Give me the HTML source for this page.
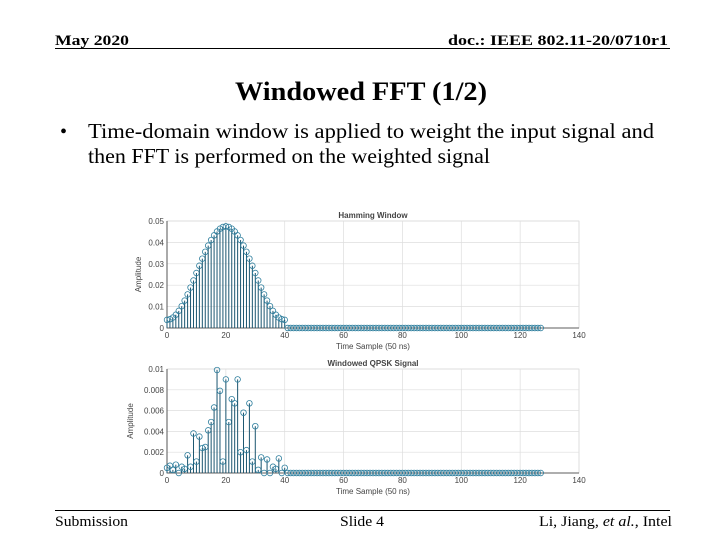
<!DOCTYPE html>
<html><head><meta charset="utf-8"><style>
html,body{margin:0;padding:0;background:#fff;width:720px;height:540px;overflow:hidden}
svg{display:block;font-family:"Liberation Serif",serif}
.ax{font-family:"Liberation Sans",sans-serif;font-size:8px;fill:#444}
</style></head><body>
<svg id="s" width="720" height="540" viewBox="0 0 720 540">
<text x="55" y="45" font-size="15" font-weight="bold" textLength="74" lengthAdjust="spacingAndGlyphs">May 2020</text>
<text x="448" y="45" font-size="15" font-weight="bold" textLength="220" lengthAdjust="spacingAndGlyphs">doc.: IEEE 802.11-20/0710r1</text>
<line x1="55" y1="48.5" x2="670" y2="48.5" stroke="#000" stroke-width="1"/>
<text x="235" y="100" font-size="26" font-weight="bold" textLength="252" lengthAdjust="spacingAndGlyphs">Windowed FFT (1/2)</text>
<text x="60" y="138" font-size="20">•</text>
<text x="88" y="138" font-size="21" textLength="566" lengthAdjust="spacingAndGlyphs">Time-domain window is applied to weight the input signal and</text>
<text x="88" y="163" font-size="21" textLength="402" lengthAdjust="spacingAndGlyphs">then FFT is performed on the weighted signal</text>
<line x1="55" y1="510.5" x2="670" y2="510.5" stroke="#000" stroke-width="1"/>
<text x="55" y="526" font-size="15" textLength="73" lengthAdjust="spacingAndGlyphs">Submission</text>
<text x="340" y="526" font-size="15" textLength="44" lengthAdjust="spacingAndGlyphs">Slide 4</text>
<text x="539" y="526" font-size="15" textLength="133" lengthAdjust="spacingAndGlyphs">Li, Jiang, <tspan font-style="italic">et al.</tspan>, Intel</text>
<g id="c1"></g><g id="c2"></g>
</svg>
<script>
const xTicks=[0,20,40,60,80,100,120,140];
const hamTicks=[0,0.01,0.02,0.03,0.04,0.05];
const hamTickLabels=["0","0.01","0.02","0.03","0.04","0.05"];
const qTicks=[0,0.002,0.004,0.006,0.008,0.01];
const qTickLabels=["0","0.002","0.004","0.006","0.008","0.01"];
const hamHalf=[0.0038,0.0041,0.0049,0.0062,0.0080,0.0102,0.0128,0.0157,0.0189,0.0222,0.0257,0.0291,0.0324,0.0356,0.0385,0.0411,0.0433,0.0451,0.0464,0.0472,0.0475];
const qpskVals=[0.0005,0.0007,0.0003,0.0008,0.0,0.0006,0.0004,0.0017,0.0006,0.0038,0.0011,0.0035,0.0024,0.0025,0.0041,0.0049,0.0063,0.0099,0.0079,0.0011,0.0090,0.0049,0.0071,0.0067,0.0090,0.0020,0.0058,0.0022,0.0067,0.0011,0.0045,0.0003,0.0015,0.0,0.0013,0.0,0.0006,0.0004,0.0014,0.0,0.0005];
const nSamples=128;
const hamVals=hamHalf.concat(hamHalf.slice(0,20).reverse());
const NS="http://www.w3.org/2000/svg";
function mk(p,t,a){const e=document.createElementNS(NS,t);for(const k in a)e.setAttribute(k,a[k]);p.appendChild(e);return e;}
function chart(g,o){
  const X0=167,X1=579,xs=v=>X0+(v-0)*(X1-X0)/140;
  const ys=v=>o.yb+(v-0)*(o.yt-o.yb)/o.ymax;
  const bg=mk(g,'rect',{x:X0,y:o.yt,width:X1-X0,height:o.yb-o.yt,fill:'#fff',stroke:'#ccc','stroke-width':0.6});
  
  
  xTicks.forEach(t=>{
    const l=mk(g,'line',{x1:xs(t),x2:xs(t),y1:o.yt,y2:o.yb,stroke:'#ddd','stroke-width':0.7});
    
    
    const tx=mk(g,'text',{x:xs(t),y:o.yb+10,'text-anchor':'middle',class:'ax'});tx.textContent=t;
    
    
  });
  o.yTicks.forEach((t,i)=>{
    const l=mk(g,'line',{x1:X0,x2:X1,y1:ys(t),y2:ys(t),stroke:'#ddd','stroke-width':0.7});
    
    
    const tx=mk(g,'text',{x:X0-3,y:ys(t)+3,'text-anchor':'end',class:'ax'});tx.textContent=o.yLabels[i];
    
    
  });
  const axl=mk(g,'path',{d:`M${X0},${o.yt}V${o.yb}H${X1}`,fill:'none',stroke:'#333','stroke-width':0.8});
  
  
  for(let i=0;i<nSamples;i++){
    const v=i<o.vals.length?o.vals[i]:0;
    const s=mk(g,'line',{x1:xs(i),x2:xs(i),y1:o.yb,y2:ys(v),stroke:'#1a5570','stroke-width':1});
    
    
    const c=mk(g,'circle',{cx:xs(i),cy:ys(v),r:2.8,fill:'none',stroke:'#2f7f9e','stroke-width':0.8});
    
    
  }
  const ti=mk(g,'text',{x:(X0+X1)/2,y:o.yt-3,'text-anchor':'middle',class:'ax','font-weight':'bold',fill:'#111'});ti.textContent=o.title;
  
  
  const xl=mk(g,'text',{x:(X0+X1)/2,y:o.yb+21,'text-anchor':'middle',class:'ax','font-size':'9'});xl.textContent='Time Sample (50 ns)';
  
  
  const yx=o.ylx,yy=(o.yt+o.yb)/2;
  const yl=mk(g,'text',{x:yx,y:yy,'text-anchor':'middle',class:'ax','font-size':'9',transform:`rotate(-90 ${yx} ${yy})`});yl.textContent='Amplitude';
  
  
}
chart(document.getElementById('c1'),{name:'hamming',yt:221,yb:328,ymax:0.05,yTicks:hamTicks,yLabels:hamTickLabels,vals:hamVals,title:'Hamming Window',ylx:141});
chart(document.getElementById('c2'),{name:'qpsk',yt:369,yb:473,ymax:0.01,yTicks:qTicks,yLabels:qTickLabels,vals:qpskVals,title:'Windowed QPSK Signal',ylx:133});
</script>
</body></html>
